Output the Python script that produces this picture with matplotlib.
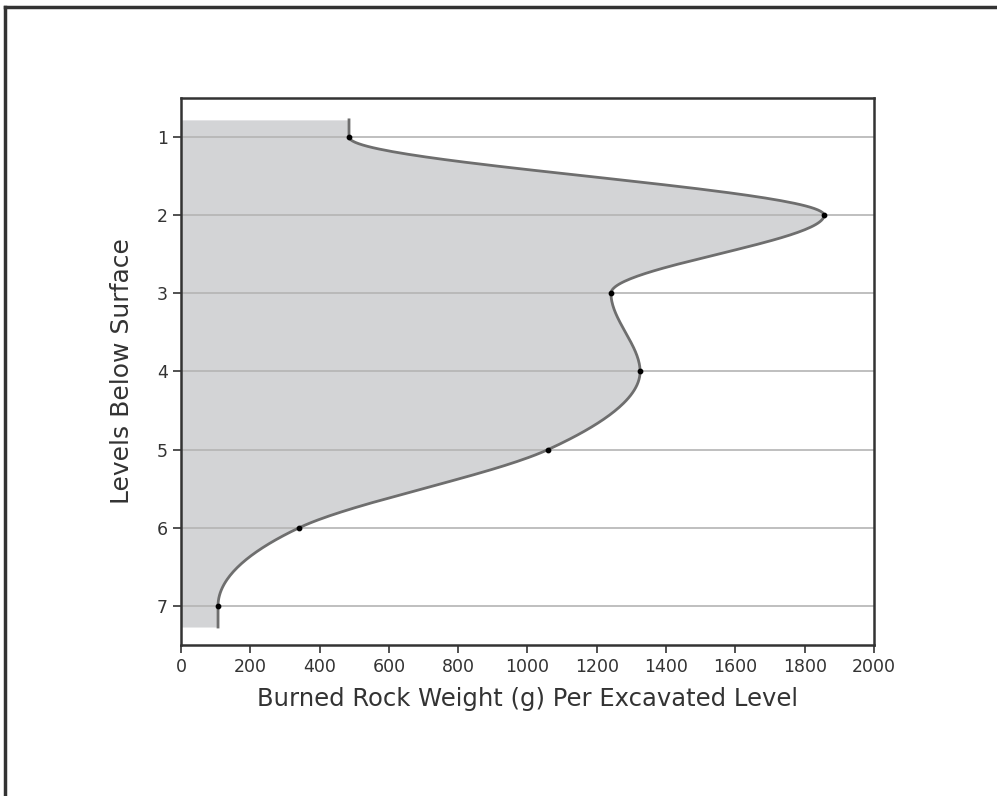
import numpy as np
import matplotlib
matplotlib.use("Agg")
import matplotlib.pyplot as plt
from matplotlib.lines import Line2D

# --- Daten ---
levels = [1, 2, 3, 4, 5, 6, 7]
weights = [485, 1856, 1241, 1325, 1059, 341, 107]
x_ticks = [0, 200, 400, 600, 800, 1000, 1200, 1400, 1600, 1800, 2000]
top_level = 0.78      # Fläche beginnt etwas über Level 1
bottom_level = 7.27   # und endet etwas unter Level 7


def glatte_kurve(y, x, n=60):
    # Hermite-Kurve: Tangente 0 an Extremen und Enden, sonst Mittelwert
    y = np.asarray(y, float)
    x = np.asarray(x, float)
    h = np.diff(y)
    d = np.diff(x) / h
    m = np.zeros_like(x)
    for i in range(1, len(x) - 1):
        if d[i - 1] * d[i] > 0:
            m[i] = (d[i - 1] + d[i]) / 2
    ys, xs = [], []
    for i in range(len(h)):
        t = np.linspace(0, 1, n)
        h00 = 2 * t**3 - 3 * t**2 + 1
        h10 = t**3 - 2 * t**2 + t
        h01 = -2 * t**3 + 3 * t**2
        h11 = t**3 - t**2
        xs.append(h00 * x[i] + h10 * h[i] * m[i] + h01 * x[i + 1] + h11 * h[i] * m[i + 1])
        ys.append(y[i] + t * h[i])
    return np.concatenate(ys), np.concatenate(xs)


plt.rcParams["font.family"] = ["DejaVu Sans"]

fig = plt.figure(figsize=(9.97, 7.96), dpi=100)
ax = fig.add_axes([0.1815, 0.1897, 0.6951, 0.6872])

ky, kx = glatte_kurve(levels, weights)
# Kurve oben und unten senkrecht verlängern
ky = np.concatenate([[top_level], ky, [bottom_level]])
kx = np.concatenate([[weights[0]], kx, [weights[-1]]])

ax.fill_betweenx(ky, 0, kx, color="#d3d4d6", linewidth=0, zorder=1)
ax.hlines(levels, 0, 2000, color="#b4b4b4", linewidth=1.2, zorder=2)
ax.plot(kx, ky, color="#6e6e6e", linewidth=2, zorder=3)
ax.scatter(weights, levels, s=10, color="black", zorder=4)

ax.set_xlim(0, 2000)
ax.set_ylim(7.5, 0.5)
ax.set_xticks(x_ticks)
ax.set_yticks(levels)
ax.tick_params(direction="out", length=6, width=1.2, colors="#333333",
               labelsize=12.5, labelcolor="#333333")
for s in ax.spines.values():
    s.set_linewidth(1.8)
    s.set_color("#333333")

ax.set_xlabel("Burned Rock Weight (g) Per Excavated Level", fontsize=17.5,
              color="#333333", labelpad=8)
ax.set_ylabel("Levels Below Surface", fontsize=18, color="#333333", labelpad=16)

# Rahmen links und oben
fig.add_artist(Line2D([0.0055, 0.0055], [0, 0.991], transform=fig.transFigure,
                      color="#333333", linewidth=2.5))
fig.add_artist(Line2D([0.0055, 1], [0.991, 0.991], transform=fig.transFigure,
                      color="#333333", linewidth=2.5))

fig.savefig("out.png", dpi=100)
